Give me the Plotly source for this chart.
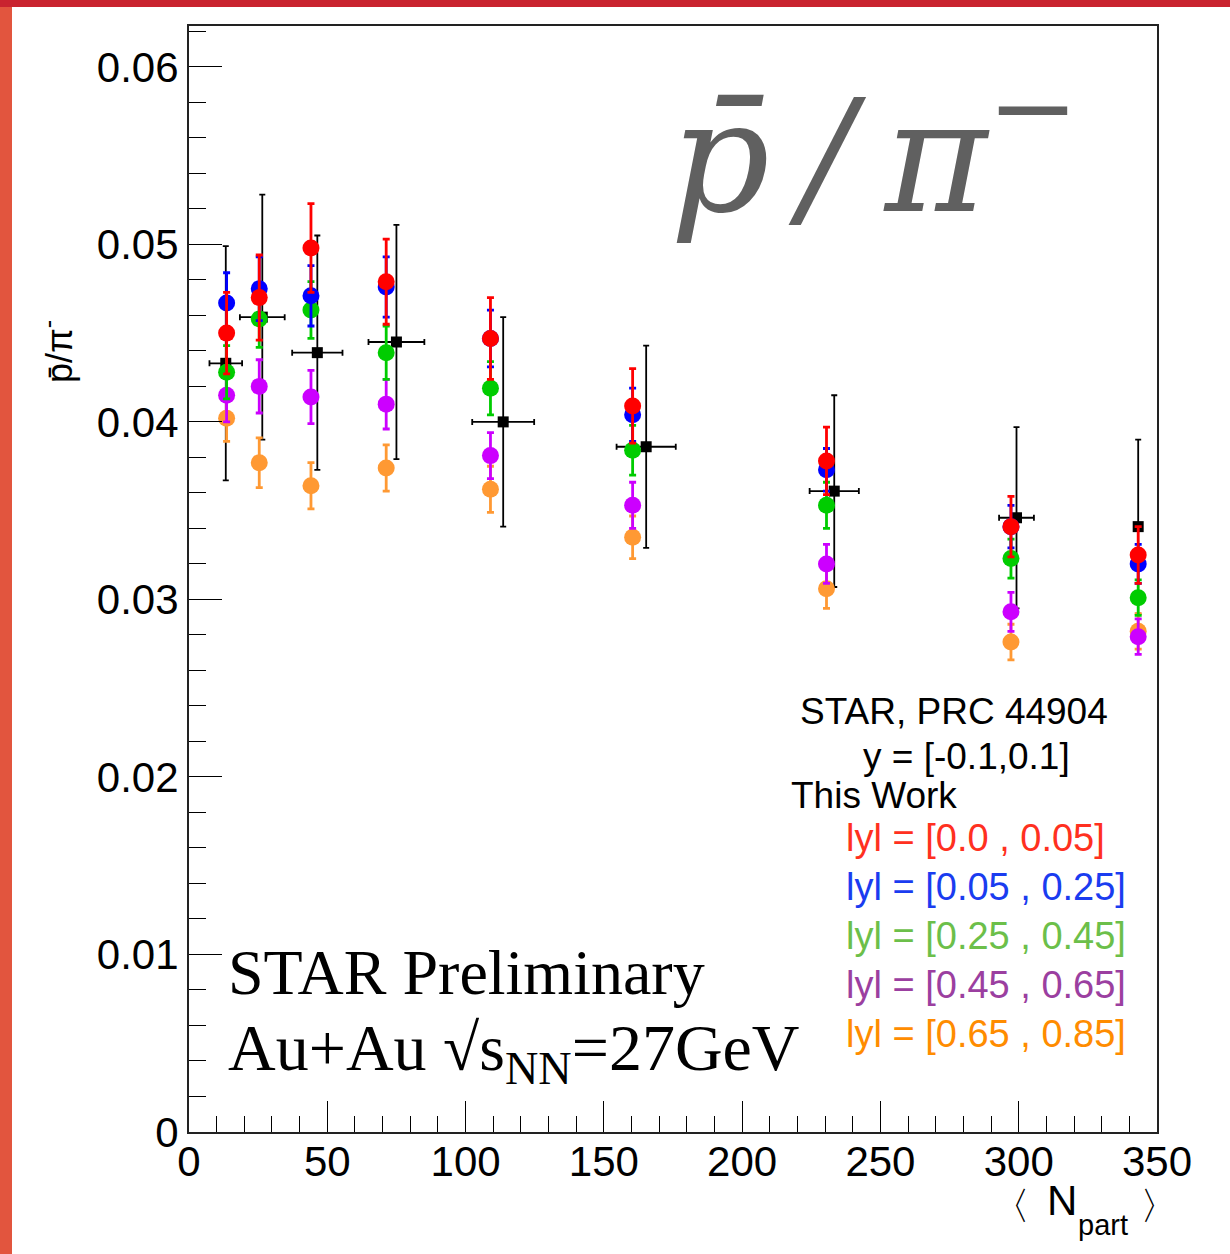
import plotly.graph_objects as go

# ---------------- data ----------------
npart = [13.6, 25.4, 44.1, 71.3, 109.0, 160.4, 230.5, 297.2, 343.2]

red = [0.0450, 0.0470, 0.0498, 0.0479, 0.0447, 0.0409, 0.0378, 0.0341, 0.0325]
red_err = [0.0023, 0.0024, 0.0025, 0.0024, 0.0023, 0.0021, 0.0019, 0.0017, 0.0016]
blue = [0.0467, 0.0475, 0.0471, 0.0476, 0.0447, 0.0404, 0.0373, 0.0341, 0.0320]
blue_err = [0.0017, 0.0018, 0.0017, 0.0017, 0.0016, 0.0015, 0.0012, 0.0012, 0.0011]
green = [0.0428, 0.0458, 0.0463, 0.0439, 0.0419, 0.0384, 0.0353, 0.0323, 0.0301]
green_err = [0.0015, 0.0016, 0.0016, 0.0015, 0.0015, 0.0014, 0.0013, 0.0011, 0.0010]
magenta = [0.0415, 0.0420, 0.0414, 0.0410, 0.0381, 0.0353, 0.0320, 0.0293, 0.0279]
magenta_err = [0.0015, 0.0015, 0.0015, 0.0014, 0.0013, 0.0013, 0.0011, 0.0011, 0.0010]
orange = [0.0402, 0.0377, 0.0364, 0.0374, 0.0362, 0.0335, 0.0306, 0.0276, 0.0282]
orange_err = [0.0013, 0.0014, 0.0013, 0.0013, 0.0013, 0.0012, 0.0011, 0.0010, 0.0010]

prc_x = [13.3, 26.5, 46.4, 75.0, 113.6, 165.3, 233.3, 299.2, 343.2]
prc_xerr = [5.9, 8.1, 9.1, 10.1, 11.2, 10.7, 8.9, 6.3, 0.0]
prc = [0.0433, 0.0459, 0.0439, 0.0445, 0.0400, 0.0386, 0.0361, 0.0346, 0.0341]
prc_err = [0.0066, 0.0069, 0.0066, 0.0066, 0.0059, 0.0057, 0.0054, 0.0051, 0.0049]

series_names = ["lyl = [0.0 , 0.05]", "lyl = [0.05 , 0.25]", "lyl = [0.25 , 0.45]",
                "lyl = [0.45 , 0.65]", "lyl = [0.65 , 0.85]"]

x_ticks = [0, 50, 100, 150, 200, 250, 300, 350]
y_ticks = [0, 0.01, 0.02, 0.03, 0.04, 0.05, 0.06]
y_ticklabels = ["0", "0.01", "0.02", "0.03", "0.04", "0.05", "0.06"]

# ---------------- layout helpers ----------------
W, H = 1230, 1254
L, R, T, B = 189, 1157, 26, 1132


def px(x):
    return (x - L) / (R - L)


def py(y):
    return (B - y) / (B - T)


fig = go.Figure()

# reference measurement (black squares) drawn first
fig.add_trace(go.Scatter(
    x=prc_x, y=prc, mode="markers",
    marker=dict(symbol="square", size=11, color="black"),
    error_y=dict(type="data", array=prc_err, color="black", thickness=1.8, width=3),
    error_x=dict(type="data", array=prc_xerr, color="black", thickness=1.8, width=3),
    showlegend=False,
))

marker_cols = ["#ff0000", "#0000ff", "#00cc00", "#cc00ff", "#ff9933"]
vals = [red, blue, green, magenta, orange]
errs = [red_err, blue_err, green_err, magenta_err, orange_err]
# draw order: orange, magenta, green, blue, red
for i in [4, 3, 2, 1, 0]:
    fig.add_trace(go.Scatter(
        x=npart, y=vals[i], mode="markers", name=series_names[i],
        marker=dict(symbol="circle", size=17, color=marker_cols[i]),
        error_y=dict(type="data", array=errs[i], color=marker_cols[i], thickness=2.8, width=3.5),
        showlegend=False,
    ))

axis_font = dict(family="Liberation Sans, Arial, sans-serif", size=42, color="black")

fig.update_xaxes(
    range=[0, 350], tickvals=x_ticks, ticktext=[str(v) for v in x_ticks],
    ticks="inside", ticklen=31, tickwidth=1.2, tickcolor="black",
    minor=dict(dtick=10, ticks="inside", ticklen=16, tickwidth=1.2, tickcolor="black"),
    showline=True, linewidth=2, linecolor="#222", mirror=True,
    showgrid=False, zeroline=False, tickfont=axis_font, ticklabelstandoff=-8,
)
fig.update_yaxes(
    range=[0, 0.0623], tickvals=y_ticks, ticktext=y_ticklabels,
    ticks="inside", ticklen=33, tickwidth=1.2, tickcolor="black",
    minor=dict(dtick=0.002, ticks="inside", ticklen=17, tickwidth=1.2, tickcolor="black"),
    showline=True, linewidth=2, linecolor="#222", mirror=True,
    showgrid=False, zeroline=False, tickfont=axis_font,
)

sans = "Liberation Sans, Arial, sans-serif"
annotations = []
# axis titles
annotations.append(dict(
    x=px(57), y=py(352), xref="paper", yref="paper",
    text="p\u0304/\u03c0<sup>-</sup>", textangle=-90, showarrow=False,
    font=dict(family=sans, size=36, color="black"),
    xanchor="center", yanchor="middle",
))
annotations.append(dict(
    x=px(1032), y=py(1206), xref="paper", yref="paper",
    text="\u3008", showarrow=False,
    font=dict(family=sans, size=38, color="black"),
    xanchor="right", yanchor="middle",
))
annotations.append(dict(
    x=px(1045), y=py(1200), xref="paper", yref="paper",
    text="N", showarrow=False,
    font=dict(family=sans, size=42, color="black"),
    xanchor="left", yanchor="middle",
))
annotations.append(dict(
    x=px(1076), y=py(1225), xref="paper", yref="paper",
    text="part", showarrow=False,
    font=dict(family=sans, size=29, color="black"),
    xanchor="left", yanchor="middle",
))
annotations.append(dict(
    x=px(1138), y=py(1206), xref="paper", yref="paper",
    text="\u3009", showarrow=False,
    font=dict(family=sans, size=38, color="black"),
    xanchor="left", yanchor="middle",
))

# big ratio label
annotations.append(dict(
    x=px(668), y=py(146), xref="paper", yref="paper",
    text="<i>p\u0304</i>\u2009/\u2009<i>\u03c0</i><sup>\u2212</sup>", showarrow=False,
    font=dict(family="DejaVu Serif, serif", size=156,
              color="#606060", style="italic"),
    xanchor="left", yanchor="middle",
))

# STAR preliminary text
serif = dict(family="Liberation Serif, Times New Roman, serif", size=64, color="black")
annotations.append(dict(x=px(226), y=py(972), xref="paper", yref="paper",
                        text="STAR Preliminary", showarrow=False, font=serif,
                        xanchor="left", yanchor="middle"))
annotations.append(dict(x=px(226), y=py(1052), xref="paper", yref="paper",
                        text="Au+Au \u221as<sub>NN</sub>=27GeV", showarrow=False,
                        font=dict(family=serif["family"], size=66, color="black"),
                        xanchor="left", yanchor="middle"))

# legend-like text block
annotations.append(dict(x=px(954), y=py(711), xref="paper", yref="paper",
                        text="STAR, PRC 44904", showarrow=False,
                        font=dict(family=sans, size=37, color="black"),
                        xanchor="center", yanchor="middle"))
annotations.append(dict(x=px(966), y=py(756), xref="paper", yref="paper",
                        text="y = [-0.1,0.1]", showarrow=False,
                        font=dict(family=sans, size=37, color="black"),
                        xanchor="center", yanchor="middle"))
annotations.append(dict(x=px(789), y=py(795), xref="paper", yref="paper",
                        text="This Work", showarrow=False,
                        font=dict(family=sans, size=37, color="black"),
                        xanchor="left", yanchor="middle"))
legend_cols = ["#ff3020", "#1a3cf0", "#6cbf4a", "#9b3fa0", "#ff8c00"]
legend_y = [838, 887, 936, 985, 1034]
for name, col, yy in zip(series_names, legend_cols, legend_y):
    annotations.append(dict(x=px(844), y=py(yy), xref="paper", yref="paper",
                            text=name, showarrow=False,
                            font=dict(family=sans, size=38, color=col),
                            xanchor="left", yanchor="middle"))

# background strips (slide border)
shapes = [
    dict(type="rect", xref="paper", yref="paper", layer="below",
         x0=px(0), x1=px(12), y0=py(H), y1=py(0),
         fillcolor="#e2553e", line=dict(width=0)),
    dict(type="rect", xref="paper", yref="paper", layer="below",
         x0=px(0), x1=px(W), y0=py(7), y1=py(0),
         fillcolor="#c9232f", line=dict(width=0)),
]

fig.update_layout(
    width=W, height=H,
    margin=dict(l=L, r=W - R, t=T, b=H - B, pad=0),
    paper_bgcolor="white", plot_bgcolor="white",
    annotations=annotations, shapes=shapes,
    showlegend=False,
)

fig.write_html("out.html")
